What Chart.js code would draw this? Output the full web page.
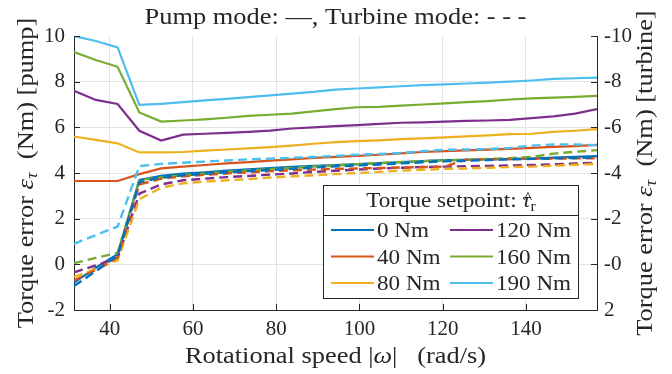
<!DOCTYPE html>
<html><head><meta charset="utf-8">
<script src="https://cdn.jsdelivr.net/npm/chart.js@4/dist/chart.umd.min.js"></script>
<style>html,body{margin:0;padding:0;background:#fff;overflow:hidden;}</style>
</head><body>
<canvas id="c" width="672" height="374"></canvas>
<script>
// Rotational speed (rad/s): 300 ... 1500 rpm in steps of 50 rpm
const speeds = [31.42, 36.65, 41.89, 47.12, 52.36, 57.60, 62.83, 68.07, 73.30, 78.54, 83.78, 89.01, 94.25,
  99.48, 104.72, 109.96, 115.19, 120.43, 125.66, 130.90, 136.14, 141.37, 146.61, 151.84, 157.08];
const setpoints = ['0 Nm', '40 Nm', '80 Nm', '120 Nm', '160 Nm', '190 Nm'];

// Pump mode torque error (Nm)
const pump0   = [-0.8, -0.15, 0.45, 3.7, 3.88, 3.97, 4.03, 4.1, 4.16, 4.22, 4.27, 4.31, 4.35, 4.39, 4.43, 4.48, 4.52, 4.56, 4.58, 4.6, 4.61, 4.63, 4.67, 4.71, 4.74];
const pump40  = [3.65, 3.65, 3.65, 3.95, 4.2, 4.28, 4.35, 4.42, 4.48, 4.54, 4.6, 4.66, 4.71, 4.75, 4.8, 4.86, 4.92, 4.96, 4.99, 5.02, 5.06, 5.1, 5.14, 5.18, 5.23];
const pump80  = [5.6, 5.45, 5.3, 4.9, 4.9, 4.92, 4.98, 5.03, 5.08, 5.13, 5.2, 5.28, 5.35, 5.4, 5.43, 5.48, 5.52, 5.56, 5.6, 5.65, 5.7, 5.72, 5.8, 5.85, 5.92];
const pump120 = [7.6, 7.2, 7.02, 5.85, 5.42, 5.68, 5.72, 5.76, 5.8, 5.86, 5.95, 6.0, 6.05, 6.1, 6.15, 6.2, 6.22, 6.25, 6.28, 6.3, 6.33, 6.4, 6.48, 6.6, 6.8];
const pump160 = [9.3, 8.95, 8.65, 6.65, 6.25, 6.3, 6.35, 6.42, 6.5, 6.55, 6.6, 6.7, 6.8, 6.88, 6.9, 6.95, 7.0, 7.05, 7.1, 7.15, 7.22, 7.27, 7.3, 7.33, 7.38];
const pump190 = [10.0, 9.78, 9.5, 6.98, 7.03, 7.1, 7.18, 7.25, 7.32, 7.4, 7.48, 7.55, 7.65, 7.7, 7.75, 7.8, 7.85, 7.88, 7.92, 7.96, 8.0, 8.05, 8.12, 8.15, 8.18];

// Turbine mode torque error (Nm)
const turb0   = [0.95, 0.3, -0.38, -3.6, -3.8, -3.9, -3.97, -4.03, -4.08, -4.13, -4.18, -4.24, -4.29, -4.33, -4.37, -4.42, -4.47, -4.51, -4.54, -4.57, -4.6, -4.62, -4.64, -4.66, -4.68];
const turb40  = [0.7, 0.25, -0.3, -3.5, -3.75, -3.85, -3.92, -3.98, -4.03, -4.08, -4.12, -4.15, -4.18, -4.2, -4.22, -4.24, -4.26, -4.28, -4.58, -4.6, -4.61, -4.62, -4.63, -4.64, -4.65];
const turb80  = [0.55, 0.2, -0.18, -2.85, -3.35, -3.55, -3.62, -3.68, -3.73, -3.8, -3.85, -3.9, -3.95, -4.0, -4.05, -4.1, -4.14, -4.18, -4.2, -4.23, -4.26, -4.28, -4.32, -4.36, -4.4];
const turb120 = [0.35, 0.05, -0.28, -3.1, -3.5, -3.68, -3.75, -3.82, -3.87, -3.93, -3.98, -4.05, -4.1, -4.15, -4.2, -4.23, -4.26, -4.28, -4.3, -4.31, -4.33, -4.35, -4.38, -4.42, -4.45];
const turb160 = [-0.05, -0.28, -0.5, -3.7, -3.8, -3.9, -3.97, -4.05, -4.1, -4.17, -4.22, -4.28, -4.33, -4.38, -4.43, -4.48, -4.52, -4.55, -4.58, -4.62, -4.65, -4.7, -4.85, -4.93, -5.0];
const turb190 = [-0.9, -1.28, -1.65, -4.3, -4.4, -4.45, -4.5, -4.55, -4.6, -4.63, -4.67, -4.7, -4.75, -4.8, -4.83, -4.88, -4.95, -5.02, -5.03, -5.05, -5.1, -5.2, -5.25, -5.25, -5.22];

const xTicks = [40, 60, 80, 100, 120, 140];
const pumpTicks = [-2, 0, 2, 4, 6, 8, 10];
const turbTicks = [-10, -8, -6, -4, -2, 0, 2];

const colors = ['#0072BD', '#D95319', '#EDB120', '#7E2F8E', '#77AC30', '#4DBEEE'];
const pumpSeries = [pump0, pump40, pump80, pump120, pump160, pump190];
const turbSeries = [turb0, turb40, turb80, turb120, turb160, turb190];

const FONT = '"Liberation Serif", "Times New Roman", serif';
const INK = '#262626';
const toPts = arr => speeds.map((s, i) => ({x: s, y: arr[i]}));

const datasets = [];
turbSeries.forEach((arr, i) => datasets.push({
  label: setpoints[i] + ' (turbine)', data: toPts(arr), yAxisID: 'y2',
  borderColor: colors[i], borderWidth: 2.4, borderDash: [9, 5], pointRadius: 0, fill: false, tension: 0
}));
pumpSeries.forEach((arr, i) => datasets.push({
  label: setpoints[i], data: toPts(arr), yAxisID: 'y',
  borderColor: colors[i], borderWidth: 2.2, pointRadius: 0, fill: false, tension: 0
}));

function rich(ctx, parts, cx, cy, rot, align, stretch) {
  ctx.save();
  ctx.translate(cx, cy);
  ctx.rotate(rot);
  ctx.scale(stretch || 1, 1);
  let total = 0;
  parts.forEach(p => { ctx.font = (p.style || '') + ' ' + p.size + 'px ' + FONT; p.w = ctx.measureText(p.t).width; total += p.w; });
  let x = align === 'left' ? 0 : -total / 2;
  ctx.textBaseline = 'alphabetic';
  ctx.textAlign = 'left';
  ctx.fillStyle = INK;
  parts.forEach(p => {
    ctx.font = (p.style || '') + ' ' + p.size + 'px ' + FONT;
    ctx.fillText(p.t, x, p.dy || 0);
    if (p.hat) {
      ctx.font = '17px ' + FONT;
      ctx.textAlign = 'center';
      ctx.fillText('^', x + p.w / 2 + 1.5, (p.dy || 0) - 4);
      ctx.textAlign = 'left';
    }
    x += p.w;
  });
  ctx.restore();
}

const decor = {
  id: 'decor',
  afterDraw(chart) {
    const ctx = chart.ctx;
    const a = chart.chartArea;
    const sx = chart.scales.x, sy = chart.scales.y, sy2 = chart.scales.y2;
    ctx.save();
    // inward tick marks
    ctx.strokeStyle = INK; ctx.lineWidth = 1;
    ctx.beginPath();
    xTicks.forEach(v => { const p = Math.round(sx.getPixelForValue(v)) + 0.5; ctx.moveTo(p, a.bottom); ctx.lineTo(p, a.bottom - 6); });
    pumpTicks.forEach(v => { const p = Math.round(sy.getPixelForValue(v)) + 0.5; ctx.moveTo(a.left, p); ctx.lineTo(a.left + 6, p); });
    turbTicks.forEach(v => { const p = Math.round(sy2.getPixelForValue(v)) + 0.5; ctx.moveTo(a.right, p); ctx.lineTo(a.right - 6, p); });
    ctx.stroke();

    const S = 1.1;
    // title
    rich(ctx, [{t: 'Pump mode: —, Turbine mode: - - -', size: 24}], (a.left + a.right) / 2, 24, 0, null, S);
    // x title
    rich(ctx, [{t: 'Rotational speed |', size: 24}, {t: 'ω', size: 24, style: 'italic'}, {t: '|   (rad/s)', size: 24}], (a.left + a.right) / 2, 363, 0, null, S);
    // y titles
    const cy = (a.top + a.bottom) / 2;
    rich(ctx, [{t: 'Torque error ', size: 24}, {t: 'ε', size: 24, style: 'italic'}, {t: 'τ', size: 17, style: 'italic', dy: 4}, {t: '  (Nm) [pump]', size: 24}], 33, cy, -Math.PI / 2, null, S);
    rich(ctx, [{t: 'Torque error ', size: 24}, {t: 'ε', size: 24, style: 'italic'}, {t: 'τ', size: 17, style: 'italic', dy: 4}, {t: '  (Nm) [turbine]', size: 24}], 652, cy, -Math.PI / 2, null, S);

    // legend
    const L = 323.5, T = 185.5, R = 578.5, B = 298.5;
    ctx.fillStyle = '#fff';
    ctx.fillRect(L, T, R - L, B - T);
    ctx.strokeStyle = INK; ctx.lineWidth = 1;
    ctx.strokeRect(L, T, R - L, B - T);
    ctx.beginPath(); ctx.moveTo(L, 215.5); ctx.lineTo(R, 215.5); ctx.stroke();
    rich(ctx, [{t: 'Torque setpoint: ', size: 22}, {t: 'τ', size: 22, style: 'italic', hat: true}, {t: 'r', size: 15, dy: 4}], (L + R) / 2, 207, 0, null, 1.05);
    const pumpSets = chart.data.datasets.filter(d => d.yAxisID === 'y');
    const rowsY = [230, 256.5, 283];
    pumpSets.forEach((d, i) => {
      const col = Math.floor(i / 3), row = i % 3;
      const x0 = col === 0 ? 331 : 450;
      const y = rowsY[row];
      ctx.strokeStyle = d.borderColor; ctx.lineWidth = 2.2; ctx.setLineDash([]);
      ctx.beginPath(); ctx.moveTo(x0, y); ctx.lineTo(x0 + 43, y); ctx.stroke();
      rich(ctx, [{t: d.label, size: 22}], x0 + 46, y + 7, 0, 'left', 1.05);
    });
    ctx.restore();
  }
};

new Chart(document.getElementById('c'), {
  type: 'line',
  data: {datasets},
  plugins: [decor],
  options: {
    responsive: false,
    devicePixelRatio: 1,
    animation: false,
    layout: {padding: {top: 36, left: 0, right: 0, bottom: 0}},
    plugins: {legend: {display: false}, title: {display: false}, tooltip: {enabled: false}},
    scales: {
      x: {
        type: 'linear', min: 31.416, max: 157.08,
        afterBuildTicks: s => { s.ticks = xTicks.map(v => ({value: v})); },
        afterFit: s => { s.height = 64; },
        ticks: {font: {family: FONT, size: 21}, color: INK, padding: 7, maxRotation: 0, callback: v => String(v)},
        grid: {color: '#e3e3e3', lineWidth: 1, drawTicks: false},
        border: {display: true, color: INK, width: 1}
      },
      y: {
        type: 'linear', position: 'left', min: -2, max: 10,
        afterBuildTicks: s => { s.ticks = pumpTicks.map(v => ({value: v})); },
        afterFit: s => { s.width = 74; },
        ticks: {font: {family: FONT, size: 21}, color: INK, padding: 9, callback: v => String(v)},
        grid: {color: c => (c.tick && c.tick.value === 10) ? 'rgba(0,0,0,0)' : '#e3e3e3', lineWidth: 1, drawTicks: false},
        border: {display: true, color: INK, width: 1}
      },
      y2: {
        type: 'linear', position: 'right', min: -10, max: 2, reverse: true,
        afterBuildTicks: s => { s.ticks = turbTicks.map(v => ({value: v})); },
        afterFit: s => { s.width = 75; },
        ticks: {font: {family: FONT, size: 21}, color: INK, padding: 7, callback: v => (v === 0 ? '-0' : String(v))},
        grid: {display: false, drawTicks: false},
        border: {display: true, color: INK, width: 1}
      }
    }
  }
});
</script>
</body></html>
